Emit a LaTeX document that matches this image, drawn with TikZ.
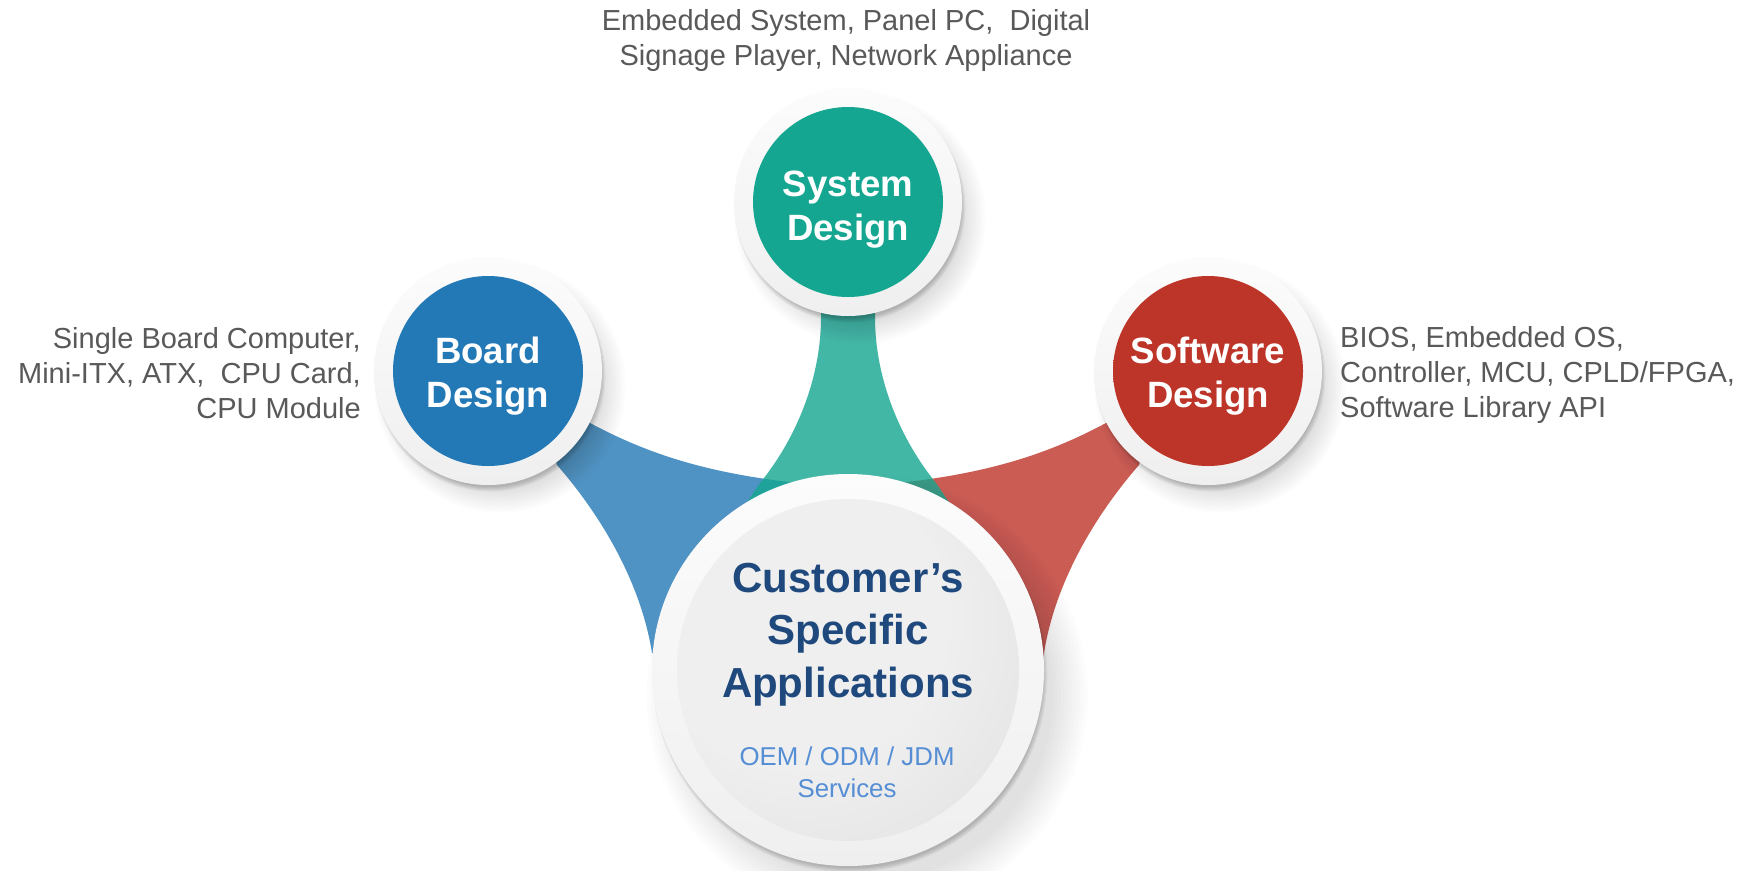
\documentclass[tikz,border=0pt]{standalone}
\usepackage{tikz}
\usepackage{fontspec}
\setmainfont{Liberation Sans}
\definecolor{bbase}{HTML}{2379B6}
\definecolor{bdark}{HTML}{1A5C8E}
\definecolor{tbase}{HTML}{14A690}
\definecolor{tdark}{HTML}{0F8674}
\definecolor{rbase}{HTML}{BD3429}
\definecolor{rdark}{HTML}{962820}
\definecolor{gl}{HTML}{EFEFEF}
\definecolor{gd}{HTML}{D2D2D2}
\definecolor{ringtop}{HTML}{FCFCFC}
\definecolor{ringbot}{HTML}{EFEFEF}
\definecolor{sidegray}{HTML}{595959}
\definecolor{titleblue}{HTML}{1F497D}
\definecolor{svcblue}{HTML}{558ED5}
\pgfdeclareradialshading{blueball}{\pgfpoint{8bp}{-8bp}}{color(0bp)=(bbase); color(36bp)=(bbase); color(58bp)=(bdark)}
\pgfdeclareradialshading{tealball}{\pgfpoint{8bp}{-8bp}}{color(0bp)=(tbase); color(36bp)=(tbase); color(58bp)=(tdark)}
\pgfdeclareradialshading{redball}{\pgfpoint{8bp}{-8bp}}{color(0bp)=(rbase); color(36bp)=(rbase); color(58bp)=(rdark)}
\pgfdeclareradialshading{grayball}{\pgfpoint{-12bp}{12bp}}{color(0bp)=(gl); color(22bp)=(gl); color(62bp)=(gd)}
\begin{document}
\begin{tikzpicture}[x=1pt,y=-1pt,
  ringnode/.style={circle, inner sep=0pt, shade, top color=ringtop, bottom color=ringbot},
  disknode/.style={circle, inner sep=0pt, shade},
  titletext/.style={text=white, font=\bfseries\fontsize{36.6}{44}\selectfont, align=center, inner sep=0pt},
  centertext/.style={text=titleblue, font=\bfseries\fontsize{42}{52.5}\selectfont, align=center, inner sep=0pt},
  svctext/.style={text=svcblue, font=\fontsize{25.8}{32}\selectfont, align=center, inner sep=0pt},
  sidetext/.style={text=sidegray, font=\fontsize{29}{35}\selectfont, inner sep=0pt},
  link/.style={opacity=0.8}]
\useasboundingbox (0,0) rectangle (1760,870);
\fill[white] (0,0) rectangle (1760,870);

% connectors
\fill[link, fill=bbase] (540,400) -- (590,423) .. controls (650,455) and (720,480) .. (850,487)
  -- (850,640) -- (654,668) .. controls (645,580) and (592,505) .. (557,465) -- cycle;
\fill[link, fill=rbase] (1156,400) -- (1106,423) .. controls (1046,455) and (976,480) .. (846,487)
  -- (846,640) -- (1042,668) .. controls (1051,580) and (1104,505) .. (1139,465) -- cycle;
\fill[link, fill=tbase] (821,300) -- (821,317) .. controls (821,380) and (795,440) .. (760,483)
  -- (735,520) -- (848,600) -- (961,520) -- (936,483) .. controls (901,440) and (875,380) .. (875,317)
  -- (875,300) -- cycle;

% shadows: wide faint part and tight darker part
\foreach \cx/\cy/\r/\w in {488/371/114/1, 848/202/114/1, 1208/371/114/1, 848/670/196/1.6} {
  \foreach \k in {0,...,9} {
    \fill[black, opacity=0.010] (\cx+12*\w,\cy+16*\w) circle (\r-10+2.4*\k*\w);
  }
  \foreach \k in {0,...,4} {
    \fill[black, opacity=0.045] (\cx+2,\cy+5) circle (\r-3+1.1*\k);
  }
}

% circles
\node[ringnode, minimum size=228pt] (boardring) at (488,371) {};
\node[disknode, shading=blueball, minimum size=190pt] (boarddisk) at (488,371) {};
\node[ringnode, minimum size=228pt] (sysring) at (848,202) {};
\node[disknode, shading=tealball, minimum size=190pt] (sysdisk) at (848,202) {};
\node[ringnode, minimum size=228pt] (softring) at (1208,371) {};
\node[disknode, shading=redball, minimum size=190pt] (softdisk) at (1208,371) {};
\node[ringnode, minimum size=392pt] (custring) at (848,670) {};
\node[disknode, shading=grayball, minimum size=342pt] (custdisk) at (848,670) {};

% texts
\node[titletext] (boardtxt) at (488,376) {Board\\Design};
\node[titletext] (systxt) at (848,210) {System\\Design};
\node[titletext] (softtxt) at (1208,376) {Software\\Design};
\node[centertext] (custtxt) at (848,634.5) {Customer’s\\Specific\\Applications};
\node[svctext] (svctxt) at (847,772) {OEM / ODM / JDM\\Services};

\node[sidetext, align=center] (toptxt) at (846,41) {Embedded System, Panel PC, \ Digital\\Signage Player, Network Appliance};
\node[sidetext, align=right, anchor=east] (lefttxt) at (361,373) {Single Board Computer,\\Mini-ITX, ATX, \ CPU Card,\\CPU Module};
\node[sidetext, align=left, anchor=west] (righttxt) at (1340,375) {BIOS, Embedded OS,\\Controller, MCU, CPLD/FPGA,\\Software Library API};
\end{tikzpicture}
\end{document}
